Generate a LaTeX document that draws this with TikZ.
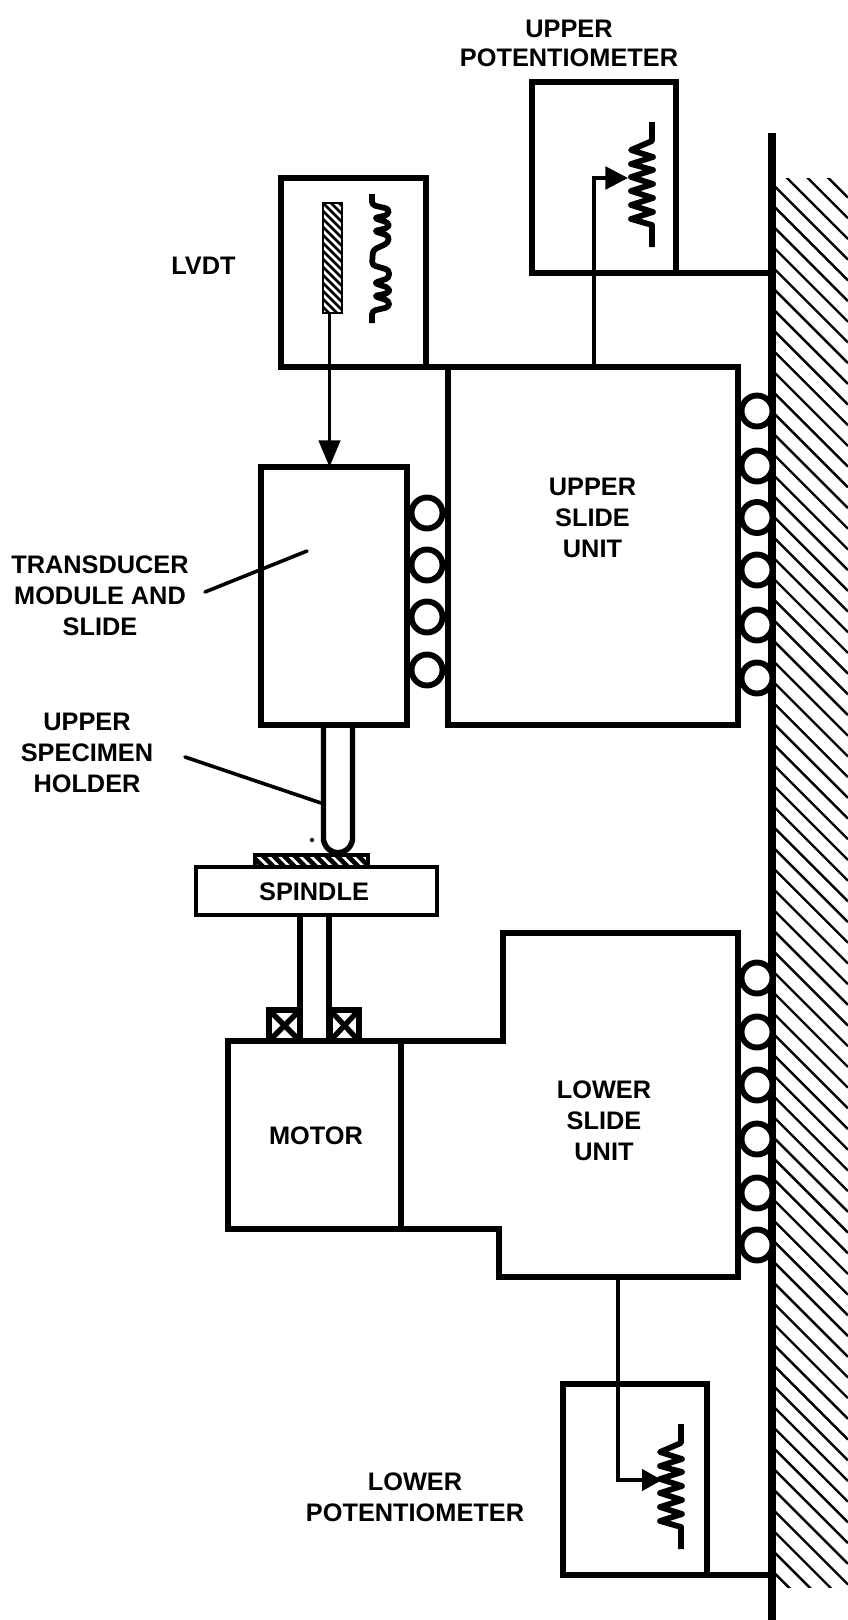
\documentclass[tikz,border=0pt]{standalone}
\usepackage{fontspec}
\setmainfont{Liberation Sans}
\usetikzlibrary{arrows.meta}
\newcommand{\bx}[6]{\node[#1,anchor=north west,minimum width={(#5-#3)*0.75pt},minimum height={(#6-#4)*0.75pt}] (#2) at (#3,#4) {};}
\newcommand{\potcoil}[2]{%
  \begin{scope}[shift={(#1,#2)}]
    \draw[coil] (0,0)--(0,19)--(-21,28)--(1,35)--(-21,42)--(1,48)--(-21,55)--(1,62)--(-21,69)--(1,76)--(-21,83)--(1,90)--(-21,97)--(0,103)--(0,125);
  \end{scope}}
\tikzset{
  x=0.75pt,y=-0.75pt,
  boxn/.style={draw,line width=4.1pt,inner sep=0pt,outer sep=0pt},
  thinbox/.style={draw,line width=3.6pt,inner sep=0pt,outer sep=0pt},
  bearing/.style={draw,line width=4.6pt,inner sep=0pt,outer sep=0pt},
  heavy/.style={line width=4.1pt,line cap=butt,line join=miter},
  wire/.style={line width=2.6pt},
  leader/.style={line width=2.7pt,line cap=round},
  coil/.style={line width=4.3pt,line join=round},
  roller/.style={draw,circle,line width=4.4pt,minimum size=23.25pt,inner sep=0pt,outer sep=0pt,fill=white},
  lab/.style={font=\fontsize{19}{23.2}\selectfont\bfseries,align=center,inner sep=0pt},
  hatchl/.style={line width=1.8pt},
}
\begin{document}
\begin{tikzpicture}
\useasboundingbox[fill=white] (0,0) rectangle (848,1620);
% wall hatching
\begin{scope}
  \clip (775,178) rectangle (848,1587);
  \foreach \k in {-4,...,70}{
    \pgfmathsetmacro{\c}{-609+20.7*\k}
    \draw[hatchl] (775,{775+\c}) -- (848,{848+\c});
  }
\end{scope}
% wall
\coordinate (wallT) at (772,133);
\coordinate (wallB) at (772,1620);
\draw[line width=5.4pt] (wallT) -- (wallB);
% boxes
\bx{boxn}{upot}{532}{82}{676}{273}
\bx{boxn}{lvdt}{281}{178}{426}{367}
\bx{boxn}{uslide}{448}{367}{738}{725}
\bx{boxn}{trans}{261}{467}{407}{725}
\bx{thinbox}{spindle}{196}{867}{437}{915}
\bx{boxn}{motor}{228}{1041}{401}{1229}
\bx{boxn}{lpot}{563}{1384}{707}{1575}
\draw[heavy,line cap=rect] (lvdt.south east) -- (uslide.north west);
\draw[heavy] (upot.south east) -- (upot.south east -| wallT);
\draw[heavy] (lpot.south east) -- (lpot.south east -| wallT);
% lower slide unit
\coordinate (ls1) at (503,1041);
\coordinate (ls2) at (503,933);
\coordinate (ls3) at (738,933);
\coordinate (ls4) at (738,1277);
\coordinate (ls5) at (499,1277);
\coordinate (ls6) at (499,1229);
\draw[heavy,line join=miter] (motor.north east) -- (ls1) -- (ls2) -- (ls3) -- (ls4) -- (ls5) -- (ls6) -- (motor.south east);
% rollers
\foreach \n/\y in {a/411,b/466,c/517.5,d/570,e/625,f/678}{\node[roller] (ru\n) at (757,\y) {};}
\foreach \n/\y in {a/978,b/1032,c/1085,d/1139,e/1193,f/1245}{\node[roller] (rl\n) at (757,\y) {};}
\foreach \n/\y in {a/513,b/565,c/617,d/670}{\node[roller] (rt\n) at (427,\y) {};}
% LVDT core
\bx{draw=none,inner sep=0pt,outer sep=0pt}{core}{323}{203}{342}{313}
\begin{scope}
  \clip (323,203) rectangle (342,313);
  \foreach \k in {0,...,18}{
    \pgfmathsetmacro{\c}{-152+8*\k}
    \draw[line width=2pt] (323,{323+\c}) -- (342,{342+\c});
  }
\end{scope}
\draw[line width=1.6pt] (core.south west) rectangle (core.north east);
\coordinate (rodtop) at (329.5,313);
\coordinate (rodtip) at (329.5,467);
\draw[wire,-{Triangle[length=20pt,width=16pt]}] (rodtop) -- (rodtip);
% LVDT coils
\draw[coil,line cap=butt,rounded corners=2.5pt] (372,194)--(372,205)--(389,209)--(388,215)--(374,218)--(389,223)--(388,228)--(374,231)--(389,236)--(388,243)--(373,250)--(372,265)--(389,270)--(389,278)--(374,283)--(389,288)--(389,293)--(374,296)--(389,301)--(389,307)--(372,311)--(372,323);
% upper potentiometer
\potcoil{652}{122}
\coordinate (uwstart) at (594,367);
\coordinate (uwcorner) at (594,178);
\coordinate (uwtip) at (628,178);
\draw[wire,-{Triangle[length=17pt,width=17pt]}] (uwstart) -- (uwcorner) -- (uwtip);
% lower potentiometer
\potcoil{681}{1424}
\coordinate (lwstart) at (618,1277);
\coordinate (lwcorner) at (618,1480);
\coordinate (lwtip) at (662,1480);
\draw[wire,-{Triangle[length=15pt,width=16pt]}] (lwstart) -- (lwcorner) -- (lwtip);
% specimen holder
\coordinate (hl) at (323.5,725);
\coordinate (hr) at (352.5,725);
\draw[heavy] (hl) -- (323.5,840) .. controls (327,857) and (349,857) .. (352.5,840) -- (hr);
\coordinate (speck) at (312,840);
\fill (speck) circle (1.6pt);
% specimen
\begin{scope}
  \clip (255,855) rectangle (368,867);
  \foreach \k in {0,...,12}{
    \pgfmathsetmacro{\c}{487+10.6*\k}
    \draw[line width=3.4pt] (240,{240+\c}) -- (400,{400+\c});
  }
\end{scope}
\coordinate (spA) at (255,867);
\coordinate (spB) at (255,855);
\coordinate (spC) at (368,855);
\coordinate (spD) at (368,867);
\draw[line width=3pt] (spA) -- (spB) -- (spC) -- (spD);
% shaft
\coordinate (sl) at (300,915);
\coordinate (sr) at (329,915);
\draw[heavy] (sl) -- (300,1041);
\draw[heavy] (sr) -- (329,1041);
% bearings
\foreach \n/\a/\b in {bl/269/300,br/330/359}{
  \bx{bearing}{\n}{\a}{1010}{\b}{1041}
  \draw[line width=4pt] (\n.north west) -- (\n.south east);
  \draw[line width=4pt] (\n.north east) -- (\n.south west);
}
% leaders
\coordinate (ltA) at (205,592);
\coordinate (ltB) at (307,551);
\draw[leader] (ltA) -- (ltB);
\coordinate (lhA) at (185,757);
\coordinate (lhB) at (321,803);
\draw[leader] (lhA) -- (lhB);
% labels
\node[lab] (tup) at (569,43) {UPPER\\[-1.5pt]POTENTIOMETER};
\node[lab] (tlv) at (203.5,266) {LVDT};
\node[lab] (ttr) at (100,596) {TRANSDUCER\\MODULE AND\\SLIDE};
\node[lab] (tsp) at (87,753) {UPPER\\SPECIMEN\\HOLDER};
\node[lab] (tus) at (592.5,518) {UPPER\\SLIDE\\UNIT};
\node[lab] (tsd) at (314,892) {SPINDLE};
\node[lab] (tmo) at (316,1136) {MOTOR};
\node[lab] (tls) at (604,1121) {LOWER\\SLIDE\\UNIT};
\node[lab] (tlp) at (415,1497) {LOWER\\POTENTIOMETER};
\end{tikzpicture}
\end{document}
